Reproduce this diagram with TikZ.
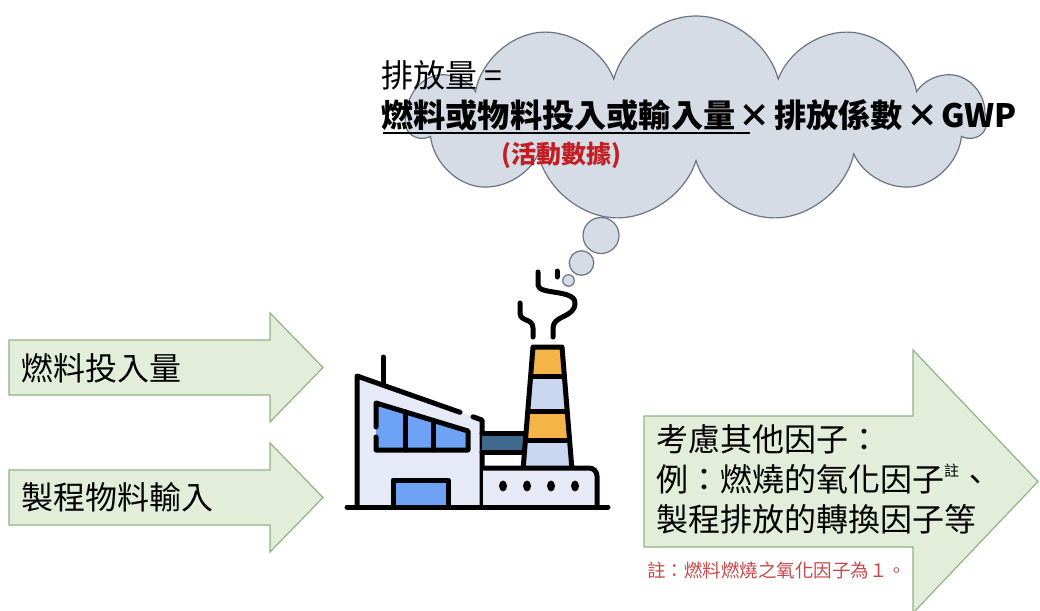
\documentclass[tikz,border=0pt]{standalone}
\usepackage{fontspec}
\usepackage{xcolor}
\usepackage{tikz}
\usetikzlibrary{shapes,positioning,calc}
\setmainfont{Noto Sans CJK TC}
\newfontfamily\cjk{Noto Sans CJK TC}

\definecolor{cloudfill}{HTML}{D6DCE6}
\definecolor{cloudline}{HTML}{6B7384}
\definecolor{arrowfill}{HTML}{E2EEDA}
\definecolor{arrowline}{HTML}{93B285}
\definecolor{notered}{HTML}{C8474A}
\definecolor{actred}{HTML}{C21F24}
\definecolor{bldg}{HTML}{E5EAF6}
\definecolor{pane}{HTML}{6EA2F4}
\definecolor{stack}{HTML}{C9D7F1}
\definecolor{band}{HTML}{F4B447}
\definecolor{pipe}{HTML}{406A8D}

\tikzset{
  inarrow/.style={draw=arrowline, fill=arrowfill, line width=1.2pt, line join=miter},
  bubble/.style={circle, draw=cloudline, fill=cloudfill, line width=1.2pt, inner sep=0pt},
  icon/.style={line width=5pt, line cap=round, line join=round},
  bigtext/.style={font=\cjk\fontsize{32}{40}\selectfont, inner sep=0pt, anchor=west},
}

\begin{document}
\begin{tikzpicture}[x=1pt,y=-1pt]
    \useasboundingbox (0,0) rectangle (1040,610);

    % thought cloud
    \node[cloud, cloud puffs=11, cloud ignores aspect, draw=cloudline, fill=cloudfill,
          line width=1.2pt, minimum width=578pt, minimum height=206pt] (cloud) at (696,119) {};
    \node[bubble, minimum size=36pt] (b1) at (601,235.5) {};
    \node[bubble, minimum size=24.5pt] (b2) at (581.5,263) {};
    \node[bubble, minimum size=11.5pt] (b3) at (568.5,280.5) {};

    % formula
    \node[bigtext] (lhs) at (381,75) {排放量 =};
    \node[bigtext, font=\cjk\bfseries\fontsize{32.2}{40}\selectfont] (rhs) at (381,115)
         {燃料或物料投入或輸入量\hspace{0.1em}×\hspace{0.1em}排放係數\hspace{0.1em}×\hspace{0.1em}GWP};
    \draw[line width=1.5pt] (383,133) -- (750,133);
    \node[font=\cjk\bfseries\fontsize{25}{30}\selectfont, text=actred, inner sep=0pt] (act) at (561,155) {(活動數據)};

    % input arrows
    \draw[inarrow] (9,340) -- (270,340) -- (270,313) -- (323,367.5) -- (270,422) -- (270,395) -- (9,395) -- cycle;
    \node[bigtext] (fuel) at (21,368) {燃料投入量};
    \draw[inarrow] (9,470) -- (270,470) -- (270,443) -- (323,497.5) -- (270,552) -- (270,525) -- (9,525) -- cycle;
    \node[bigtext] (proc) at (21,497) {製程物料輸入};

    % output arrow
    \draw[inarrow] (644,416) -- (913,416) -- (913,350) -- (1038,481.5) -- (913,613) -- (913,547) -- (644,547) -- cycle;
    \node[bigtext, align=left] (factors) at (656,479)
         {考慮其他因子：\\例：燃燒的氧化因子\raisebox{0.45em}{\fontsize{15}{15}\selectfont 註}、\\製程排放的轉換因子等};
    \node[font=\cjk\fontsize{18.5}{22}\selectfont, text=notered, inner sep=0pt, anchor=west] (note) at (647,570)
         {註：燃料燃燒之氧化因子為１。};

    % factory: main building
    \fill[bldg] (357,507) -- (357,376) -- (482,420) -- (482,507) -- cycle;
    \draw[icon] (357,507) -- (357,376) -- (460,412.3);
    \draw[icon] (473,416.8) -- (482,420) -- (482,507);
    \draw[icon] (383,357) -- (383,384);
    \fill[pane] (376,403) -- (468,431) -- (468,450) -- (376,450) -- cycle;
    \draw[icon] (376,427) -- (376,403) -- (468,431) -- (468,450) -- (376,450) -- (376,437);
    \draw[icon] (405,411.8) -- (405,450);
    \draw[icon] (433,420.3) -- (433,450);
    \filldraw[icon, fill=pane] (393,507) rectangle (448,480);

    % pipe
    \fill[pipe] (482,433) rectangle (528,452);
    \draw[icon] (482,433) -- (528,433);
    \draw[icon] (482,452) -- (528,452);

    % chimney
    \begin{scope}
      \clip (523,470) -- (533,347) -- (562,347) -- (572,470) -- cycle;
      \fill[band] (515,340) rectangle (580,376);
      \fill[stack] (515,376) rectangle (580,411);
      \fill[band] (515,411) rectangle (580,440);
      \fill[stack] (515,440) rectangle (580,472);
      \draw[icon] (515,376) -- (580,376);
      \draw[icon] (515,411) -- (580,411);
      \draw[icon] (515,440) -- (580,440);
    \end{scope}
    \draw[icon] (523,470) -- (533,347) -- (562,347) -- (572,470);

    % base with vents
    \fill[bldg] (483,468) rectangle (597,507);
    \draw[icon] (483,468) [rounded corners=8pt]-- (597,468) -- (597,507);
    \foreach \vx in {503,527,551,575}
      \fill (\vx,486) ellipse (4pt and 5.5pt);
    \draw[icon] (347,507) -- (608,507);

    % smoke
    \draw[icon] (520,303) -- (520,313) .. controls (520,322) and (533,318) .. (533,328) -- (533,337);
    \draw[icon] (538,272) -- (538,285) .. controls (538,295) and (575,289) .. (575,303)
                .. controls (575,318) and (553,315) .. (553,328) -- (553,337);
    \draw[icon] (557,271) -- (557,277);
\end{tikzpicture}
\end{document}
